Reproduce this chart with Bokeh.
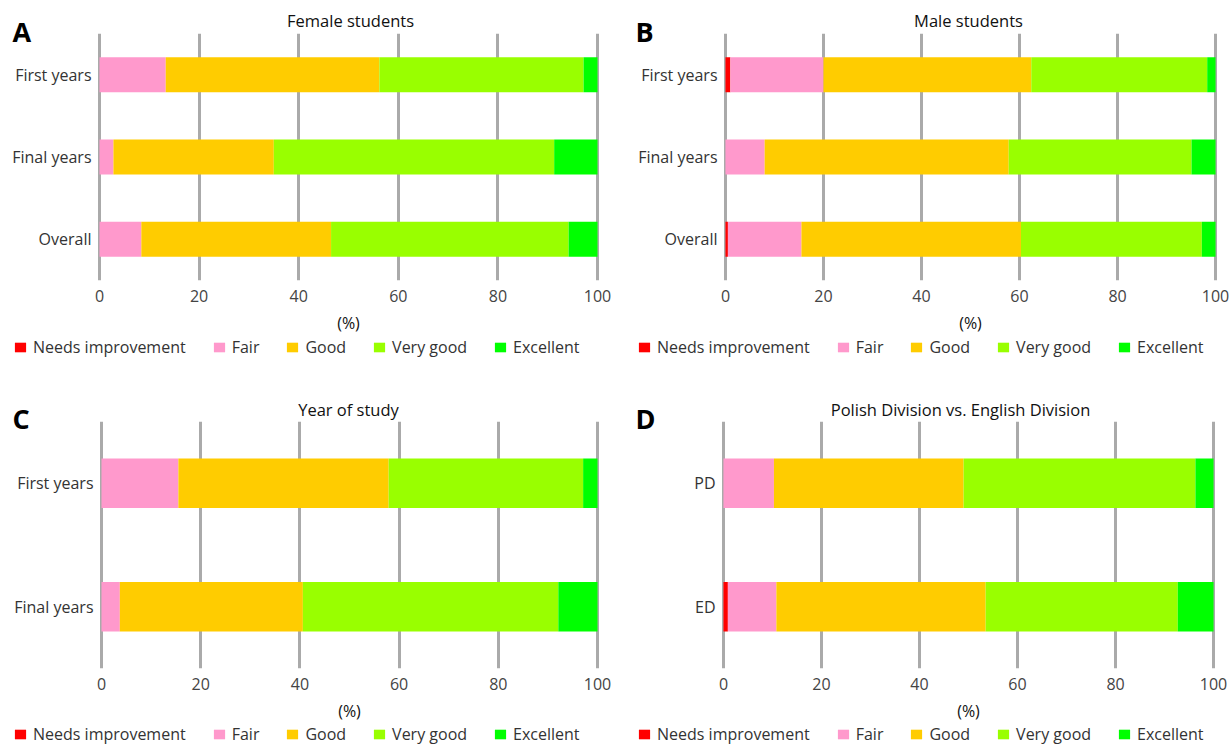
from bokeh.plotting import figure
from bokeh.models import (ColumnDataSource, FactorRange, Range1d, Label, FixedTicker,
                          Legend, LegendItem)
from bokeh.layouts import row, column
from bokeh.embed import file_html
from bokeh.resources import INLINE

levels = ["Needs improvement", "Fair", "Good", "Very good", "Excellent"]
colors = ["#FF0000", "#FF99CC", "#FFCC00", "#99FF00", "#00FF00"]
x_ticks = [0, 20, 40, 60, 80, 100]

# A - Female students
female_groups = ["First years", "Final years", "Overall"]
female_needs = [0.0, 0.0, 0.0]
female_fair = [13.3, 2.8, 8.4]
female_good = [42.9, 32.2, 38.1]
female_very_good = [41.0, 56.3, 47.7]
female_excellent = [2.8, 8.7, 5.8]

# B - Male students
male_groups = ["First years", "Final years", "Overall"]
male_needs = [1.0, 0.0, 0.5]
male_fair = [19.0, 8.0, 15.0]
male_good = [42.4, 49.8, 44.8]
male_very_good = [35.9, 37.3, 36.9]
male_excellent = [1.7, 4.9, 2.8]

# C - Year of study
year_groups = ["First years", "Final years"]
year_needs = [0.0, 0.0]
year_fair = [15.5, 3.7]
year_good = [42.4, 36.9]
year_very_good = [39.2, 51.5]
year_excellent = [2.9, 7.9]

# D - Polish Division vs. English Division
div_groups = ["PD", "ED"]
div_needs = [0.0, 0.9]
div_fair = [10.3, 9.9]
div_good = [38.7, 42.7]
div_very_good = [47.3, 39.2]
div_excellent = [3.7, 7.3]

FONT = "Open Sans"
FRAME_H = 247
COL_W = 615


def no_align(f):
    try:
        f.frame_align = False
    except Exception:
        pass


def make_source(groups, series):
    data = {"group": groups}
    for name, vals in zip(levels, series):
        data[name] = vals
    return ColumnDataSource(data)


def make_main(src, groups, left, frame_w, bar_h, bottom):
    p = figure(y_range=FactorRange(factors=list(reversed(groups))),
               x_range=Range1d(-0.4, 100.4),
               frame_width=frame_w, frame_height=FRAME_H,
               min_border_left=left, min_border_right=COL_W - left - frame_w,
               min_border_top=0, min_border_bottom=bottom,
               output_backend="svg", toolbar_location=None)
    no_align(p)
    p.hbar_stack(levels, y="group", height=bar_h, color=colors, line_color=None,
                 source=src)
    p.outline_line_color = None
    p.background_fill_color = "white"
    p.border_fill_color = None

    p.xaxis.ticker = FixedTicker(ticks=x_ticks)
    p.xaxis.axis_line_color = None
    p.xaxis.major_tick_line_color = None
    p.xaxis.minor_tick_line_color = None
    p.xaxis.major_tick_out = 0
    p.xaxis.major_tick_in = 0
    p.xaxis.major_label_text_font = FONT
    p.xaxis.major_label_text_font_size = "16px"
    p.xaxis.major_label_text_color = "#444444"
    p.xaxis.major_label_standoff = 9
    p.xaxis.axis_label = "(%)"
    p.xaxis.axis_label_text_font = FONT
    p.xaxis.axis_label_text_font_size = "16px"
    p.xaxis.axis_label_text_font_style = "normal"
    p.xaxis.axis_label_text_color = "#111111"
    p.xaxis.axis_label_standoff = 7

    p.yaxis.axis_line_color = None
    p.yaxis.major_tick_line_color = None
    p.yaxis.minor_tick_line_color = None
    p.yaxis.major_tick_out = 0
    p.yaxis.major_tick_in = 0
    p.yaxis.major_label_text_font = FONT
    p.yaxis.major_label_text_font_size = "16px"
    p.yaxis.major_label_text_color = "#333333"
    p.yaxis.major_label_standoff = 6

    p.ygrid.grid_line_color = None
    p.xgrid.grid_line_color = "#AAAAAA"
    p.xgrid.grid_line_width = 3
    return p


def blank(height, y_range=None, margin=None):
    f = figure(width=COL_W, height=height, x_range=Range1d(0, 1),
               y_range=y_range if y_range is not None else Range1d(0, 1),
               min_border=0, output_backend="svg", toolbar_location=None)
    no_align(f)
    f.axis.visible = False
    f.grid.visible = False
    f.outline_line_color = None
    f.background_fill_color = None
    f.border_fill_color = None
    if margin is not None:
        f.margin = margin
    return f


def make_header(letter, title, height, overlap, letter_x, letter_y, title_x, title_y):
    h = blank(height, margin=(0, 0, -overlap, 0))
    h.add_layout(Label(x=letter_x, y=letter_y, x_units="screen", y_units="screen",
                       text=letter, text_font=FONT, text_font_size="27px",
                       text_font_style="bold", text_color="#000000",
                       text_baseline="alphabetic", text_align="left"))
    h.add_layout(Label(x=title_x, y=title_y, x_units="screen", y_units="screen",
                       text=title, text_font=FONT, text_font_size="16.5px",
                       text_color="#111111", text_baseline="alphabetic", text_align="center"))
    return h


def make_legend(src, groups, height, x, y):
    f = blank(height, y_range=FactorRange(factors=groups))
    rs = f.hbar_stack(levels, y="group", height=0.5, color=colors, line_color=None,
                      source=src, visible=False)
    items = [LegendItem(label=name, renderers=[r]) for name, r in zip(levels, rs)]
    lg = Legend(items=items, orientation="horizontal", location=(x, y),
                background_fill_alpha=0, border_line_color=None, padding=0,
                margin=0, spacing=26, label_standoff=6, glyph_width=14, glyph_height=12,
                label_height=18, label_text_font=FONT, label_text_font_size="16px",
                label_text_color="#333333", inactive_fill_alpha=0)
    f.add_layout(lg, "center")
    return f


src_a = make_source(female_groups,
                    [female_needs, female_fair, female_good, female_very_good, female_excellent])
src_b = make_source(male_groups,
                    [male_needs, male_fair, male_good, male_very_good, male_excellent])
src_c = make_source(year_groups,
                    [year_needs, year_fair, year_good, year_very_good, year_excellent])
src_d = make_source(div_groups,
                    [div_needs, div_fair, div_good, div_very_good, div_excellent])

# Row 1 (header box 49, overlapping the plot by 16 -> plot frame starts at y=33)
ha = make_header("A", "Female students", 49, 16, 12, 18.2, 350, 29.2)
pa = make_main(src_a, female_groups, 97, 502, 0.425, 56)
la = make_legend(src_a, female_groups, 26, 13, 4)

hb = make_header("B", "Male students", 49, 16, 20, 18.2, 353, 29.2)
pb = make_main(src_b, male_groups, 108, 494, 0.425, 56)
lb = make_legend(src_b, male_groups, 26, 22, 4)

# Row 2
hc = make_header("C", "Year of study", 74, 15, 12, 18.5, 348, 26.8)
pc = make_main(src_c, year_groups, 99, 500, 0.40, 56)
lc = make_legend(src_c, year_groups, 23, 13, 2)

hd = make_header("D", "Polish Division vs. English Division", 74, 15, 20, 18.5, 345, 26.8)
pd_ = make_main(src_d, div_groups, 106, 494, 0.40, 56)
ld = make_legend(src_d, div_groups, 23, 22, 2)

layout = column(row(column(ha, pa, la), column(hb, pb, lb)),
                row(column(hc, pc, lc), column(hd, pd_, ld)))
open("out.html", "w").write(file_html(layout, INLINE))
